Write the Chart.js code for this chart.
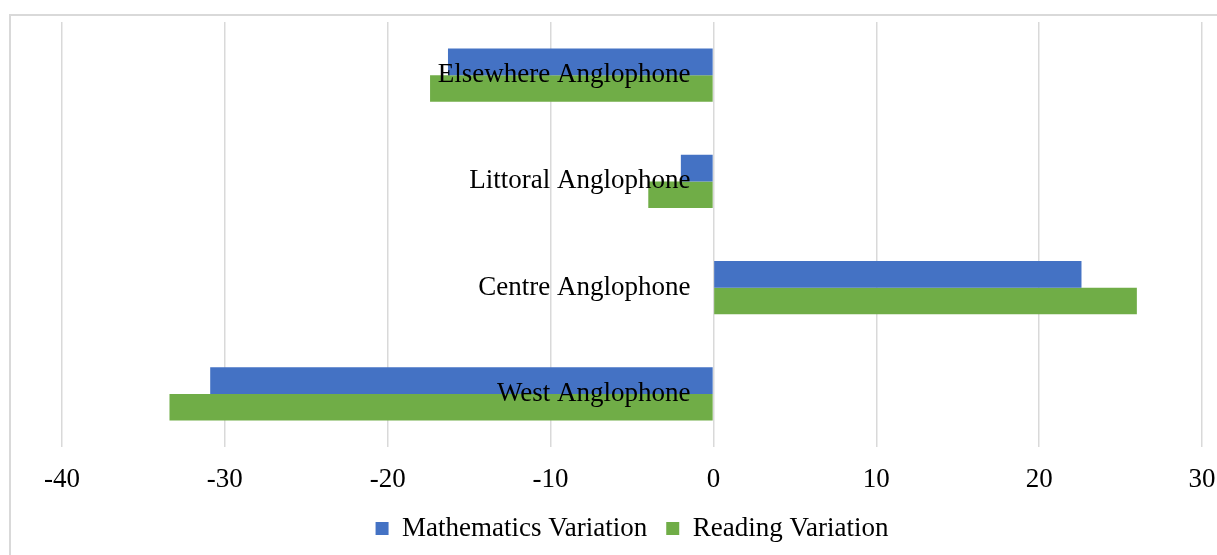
<!DOCTYPE html>
<html>
<head>
<meta charset="utf-8">
<script src="https://cdn.jsdelivr.net/npm/chart.js@4"></script>
<style>
  html, body { margin: 0; padding: 0; background: #fff; overflow: hidden; }
  #frame { position: absolute; left: 9px; top: 14px; width: 1300px; height: 600px; border: 2px solid #d9d9d9; }
  #wrap { position: absolute; left: 0; top: 0; width: 1240px; height: 555px; }
</style>
</head>
<body>
<div id="frame"></div>
<div id="wrap"><canvas id="regionChart"></canvas></div>
<script>
// data
const regions = ["Elsewhere Anglophone", "Littoral Anglophone", "Centre Anglophone", "West Anglophone"];
const mathsVariation = [-16.3, -2.0, 22.6, -30.9];
const readingVariation = [-17.4, -4.0, 26.0, -33.4];
const xTicks = [-40, -30, -20, -10, 0, 10, 20, 30];

const serif = "'Liberation Serif', 'Times New Roman', serif";

// region names sit just left of the zero line, over the bars
const regionLabels = {
  id: "regionLabels",
  afterDatasetsDraw(chart) {
    const c = chart.ctx;
    const x = chart.scales.x.getPixelForValue(0) - 23;
    c.save();
    c.font = "27px " + serif;
    c.fillStyle = "#000";
    c.textAlign = "right";
    c.textBaseline = "middle";
    regions.forEach((name, i) => {
      c.fillText(name, x, chart.scales.y.getPixelForValue(i));
    });
    c.restore();
  },
};

const ctx = document.getElementById("regionChart").getContext("2d");
const regionChart = new Chart(ctx, {
  type: "bar",
  data: {
    labels: regions,
    datasets: [
      {
        label: "Mathematics Variation",
        data: mathsVariation,
        backgroundColor: "#4472C4",
      },
      {
        label: "Reading Variation",
        data: readingVariation,
        backgroundColor: "#70AD47",
      },
    ],
  },
  options: {
    indexAxis: "y",
    responsive: true,
    maintainAspectRatio: false,
    animation: false,
    datasets: { bar: { barPercentage: 1, categoryPercentage: 0.5 } },
    layout: { padding: { left: 62, right: 38, top: 22, bottom: 3 } },
    scales: {
      x: {
        min: xTicks[0],
        max: xTicks[xTicks.length - 1],
        afterBuildTicks: (s) => { s.ticks = xTicks.map((v) => ({ value: v })); },
        afterFit: (s) => { s.height = 49; },
        grid: { color: "#d9d9d9", lineWidth: 1.5, drawTicks: false },
        border: { display: false },
        ticks: { color: "#000", font: { family: serif, size: 27, lineHeight: 1 }, padding: 19 },
      },
      y: {
        display: false,
      },
    },
    plugins: {
      legend: {
        position: "bottom",
        labels: {
          color: "#000",
          font: { family: serif, size: 27 },
          boxWidth: 13,
          boxHeight: 13,
          padding: 19,
        },
      },
      tooltip: { enabled: false },
    },
  },
  plugins: [regionLabels],
});
</script>
</body>
</html>
